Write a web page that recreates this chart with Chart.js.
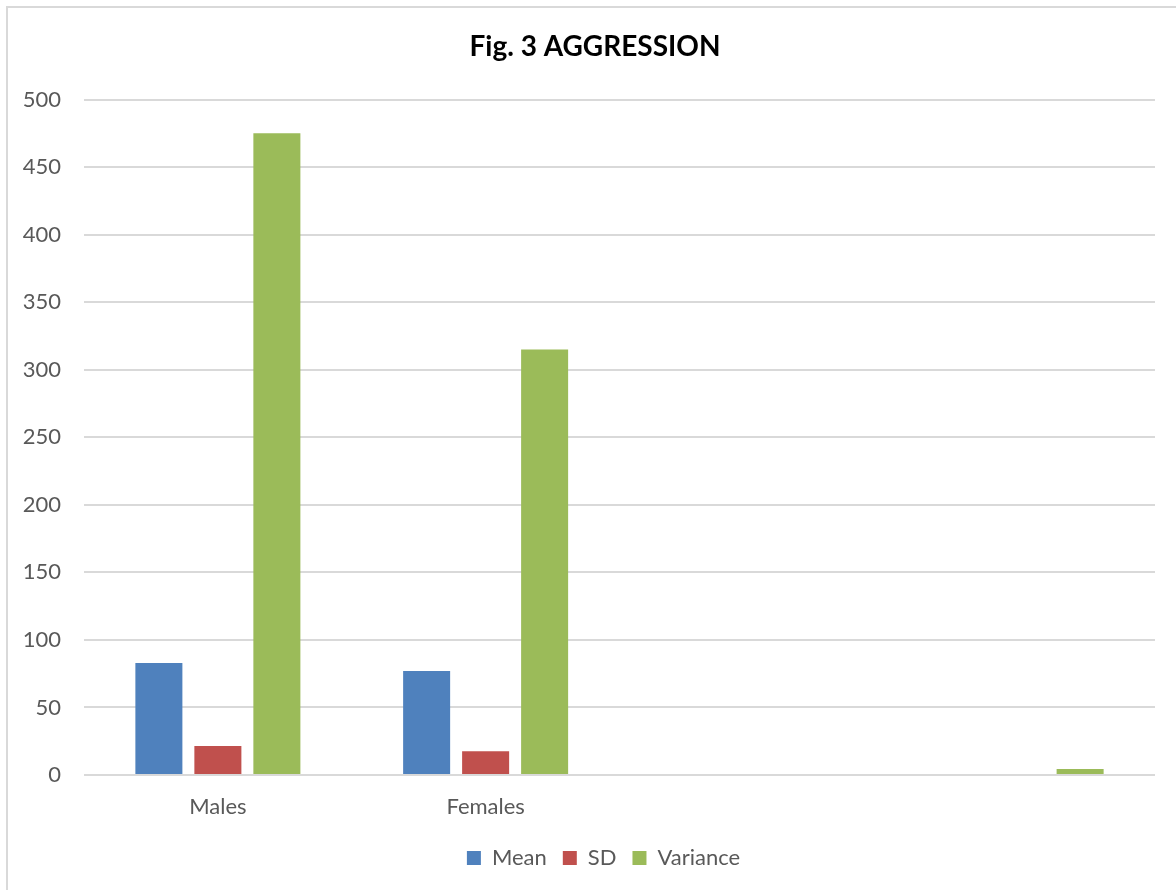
<!DOCTYPE html>
<html>
<head>
<meta charset="utf-8">
<title>Fig. 3 AGGRESSION</title>
<script src="https://cdn.jsdelivr.net/npm/chart.js@4/dist/chart.umd.min.js"></script>
<style>
  html, body { margin: 0; padding: 0; background: #ffffff; }
  #wrap { position: relative; width: 1176px; height: 890px; }
  #frame { position: absolute; left: 6px; top: 6px; right: 0; bottom: 0;
           border-left: 2px solid #d9d9d9; border-top: 2px solid #d9d9d9; pointer-events: none; }
  canvas { position: absolute; left: 0; top: 0; }
</style>
</head>
<body>
<div id="wrap">
  <canvas id="chart" width="1176" height="890"></canvas>
  <div id="frame"></div>
</div>
<script>
// Groups on the category axis (the last two are unlabelled)
const categories = ["Males", "Females", "", ""];

// Series values per group
const meanValues = [83, 77, null, null];
const sdValues = [21.5, 17.5, null, null];
const varianceValues = [475, 315, null, 4.5];

// Value-axis range and step
const yMin = 0;
const yMax = 500;
const yStep = 50;

const FONT = "Lato, 'Open Sans', 'Liberation Sans', sans-serif";
const TEXT = "#595959";
const GRID = "#d9d9d9";

// Centre the title and legend over the plot area rather than the whole canvas
const centreOverPlot = {
  id: "centreOverPlot",
  afterLayout(chart) {
    if (chart.titleBlock) chart.titleBlock.left += 35;
    if (chart.legend) chart.legend.left += 52;
  }
};

new Chart(document.getElementById("chart"), {
  type: "bar",
  data: {
    labels: categories,
    datasets: [
      { label: "Mean", data: meanValues, backgroundColor: "#4f81bd" },
      { label: "SD", data: sdValues, backgroundColor: "#c0504d" },
      { label: "Variance", data: varianceValues, backgroundColor: "#9bbb59" }
    ]
  },
  plugins: [centreOverPlot],
  options: {
    responsive: false,
    animation: false,
    layout: { padding: { left: 0, right: 21, top: 0, bottom: 11 } },
    datasets: {
      bar: { categoryPercentage: 0.661, barPercentage: 0.797 }
    },
    plugins: {
      title: {
        display: true,
        text: "Fig. 3 AGGRESSION",
        color: "#000000",
        font: { family: FONT, size: 28, weight: "bold" },
        padding: { top: 30, bottom: 36 }
      },
      legend: {
        position: "bottom",
        labels: {
          color: TEXT,
          font: { family: FONT, size: 22 },
          boxWidth: 14,
          boxHeight: 14,
          padding: 16
        }
      },
      tooltip: { enabled: false }
    },
    scales: {
      x: {
        grid: { display: false },
        border: { display: false },
        ticks: { color: TEXT, font: { family: FONT, size: 22 }, padding: 11 },
        afterFit(scale) { scale.height = 56; }
      },
      y: {
        min: yMin,
        max: yMax,
        ticks: { stepSize: yStep, color: TEXT, font: { family: FONT, size: 22 }, padding: 23 },
        grid: { color: GRID, lineWidth: 2, drawTicks: false },
        border: { display: false },
        afterFit(scale) { scale.width = 84; }
      }
    }
  }
});
</script>
</body>
</html>
